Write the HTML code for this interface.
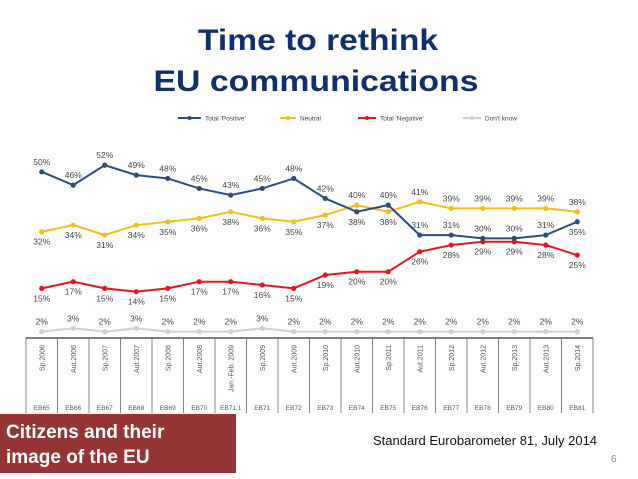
<!DOCTYPE html>
<html><head><meta charset="utf-8"><style>
html,body{margin:0;padding:0;background:#fff;}
svg{display:block;font-family:"Liberation Sans",sans-serif;}
</style></head><body>
<svg id="chart" width="638" height="479" viewBox="0 0 638 479" xmlns="http://www.w3.org/2000/svg">
<text x="318" y="50" text-anchor="middle" font-size="30" font-weight="bold" fill="#102f6b" textLength="240" lengthAdjust="spacingAndGlyphs">Time to rethink</text>
<text x="316" y="91" text-anchor="middle" font-size="30" font-weight="bold" fill="#102f6b" textLength="325" lengthAdjust="spacingAndGlyphs">EU communications</text>
<g id="legend"></g>
<g id="table"></g>
<g id="series"></g>
<rect x="0" y="414" width="236" height="59" fill="#953533"/>
<text x="6" y="438" font-size="19" font-weight="bold" fill="#fff">Citizens and their</text>
<text x="6" y="463" font-size="19" font-weight="bold" fill="#fff">image of the EU</text>
<text x="373" y="445" font-size="13" fill="#111">Standard Eurobarometer 81, July 2014</text>
<text x="611" y="462" font-size="10" fill="#888">6</text>
</svg>
<script>
const categories=["Sp.2006","Aut.2006","Sp.2007","Aut.2007","Sp.2008","Aut.2008","Jan.-Feb. 2009","Sp.2009","Aut.2009","Sp.2010","Aut.2010","Sp.2011","Aut.2011","Sp.2012","Aut.2012","Sp.2013","Aut.2013","Sp.2014"];
const waves=["EB65","EB66","EB67","EB68","EB69","EB70","EB71.1","EB71","EB72","EB73","EB74","EB75","EB76","EB77","EB78","EB79","EB80","EB81"];
const positive=[50,46,52,49,48,45,43,45,48,42,38,40,31,31,30,30,31,35];
const neutral=[32,34,31,34,35,36,38,36,35,37,40,38,41,39,39,39,39,38];
const negative=[15,17,15,14,15,17,17,16,15,19,20,20,26,28,29,29,28,25];
const dontKnow=[2,3,2,3,2,2,2,3,2,2,2,2,2,2,2,2,2,2];
const seriesNames=["Total 'Positive'","Neutral","Total 'Negative'","Don't know"];
// label side: 1 above, -1 below
const posSide=[1,1,1,1,1,1,1,1,1,1,-1,1,1,1,1,1,1,-1];
const neuSide=[-1,-1,-1,-1,-1,-1,-1,-1,-1,-1,1,-1,1,1,1,1,1,1];
const negSide=[-1,-1,-1,-1,-1,-1,-1,-1,-1,-1,-1,-1,-1,-1,-1,-1,-1,-1];
const dkSide=[1,1,1,1,1,1,1,1,1,1,1,1,1,1,1,1,1,1];

const NS="http://www.w3.org/2000/svg";
const x0=26, cw=31.5;
function xPos(i){return x0+cw*(i+0.5);}
function yPos(v){return 338.3-3.33*v;}
function mk(tag,attrs,parent){const e=document.createElementNS(NS,tag);for(const k in attrs)e.setAttribute(k,attrs[k]);parent.appendChild(e);return e;}

const table=document.getElementById('table');
const n=categories.length;
const right=x0+cw*n;
mk('line',{x1:x0,y1:338,x2:right,y2:338,stroke:'#333','stroke-width':1.2},table);
for(let i=0;i<=n;i++){
  const l=mk('line',{x1:x0+cw*i,y1:338,x2:x0+cw*i,y2:413,stroke:'#666','stroke-width':0.8},table);
  
  
}
categories.forEach((c,i)=>{
  const cx=xPos(i);
  const t=mk('text',{x:0,y:0,transform:`translate(${cx+2.5},345) rotate(-90)`,'text-anchor':'end','font-size':7,fill:'#555'},table);
  t.textContent=c;
  
  
  const w=mk('text',{x:cx,y:410,'text-anchor':'middle','font-size':6.5,fill:'#555'},table);
  w.textContent=waves[i];
  
  
});

const sg=document.getElementById('series');
const defs=[
 {vals:dontKnow,side:dkSide,color:'#d0d0d0',name:'series-dont-know'},
 {vals:negative,side:negSide,color:'#e3161e',name:'series-negative'},
 {vals:neutral,side:neuSide,color:'#f2be1a',name:'series-neutral'},
 {vals:positive,side:posSide,color:'#2b4c7e',name:'series-positive'}
];
defs.forEach(d=>{
  const g=mk('g',{},sg);
  
  
  const pts=d.vals.map((v,i)=>xPos(i)+','+yPos(v)).join(' ');
  const pl=mk('polyline',{points:pts,fill:'none',stroke:d.color,'stroke-width':2},g);
  
  
  d.vals.forEach((v,i)=>{
    const c=mk('circle',{cx:xPos(i),cy:yPos(v),r:2.6,fill:d.color},g);
    
    
    const ly=d.side[i]>0?yPos(v)-7:yPos(v)+13;
    const t=mk('text',{x:xPos(i),y:ly,'text-anchor':'middle','font-size':8.5,fill:'#444'},g);
    t.textContent=v+'%';
    
    
  });
});

const lg=document.getElementById('legend');
const legPos=[[178,205],[280,300],[358,380],[463,485]];
const legCol=['#2b4c7e','#f2be1a','#e3161e','#d0d0d0'];
seriesNames.forEach((s,i)=>{
  const g=mk('g',{},lg);
  
  
  mk('line',{x1:legPos[i][0],y1:118,x2:legPos[i][1]-4,y2:118,stroke:legCol[i],'stroke-width':2},g);
  mk('circle',{cx:(legPos[i][0]+legPos[i][1]-4)/2,cy:118,r:2,fill:legCol[i]},g);
  const t=mk('text',{x:legPos[i][1],y:120.5,'font-size':6.5,fill:'#444'},g);
  t.textContent=s;
});
</script>
</body></html>
